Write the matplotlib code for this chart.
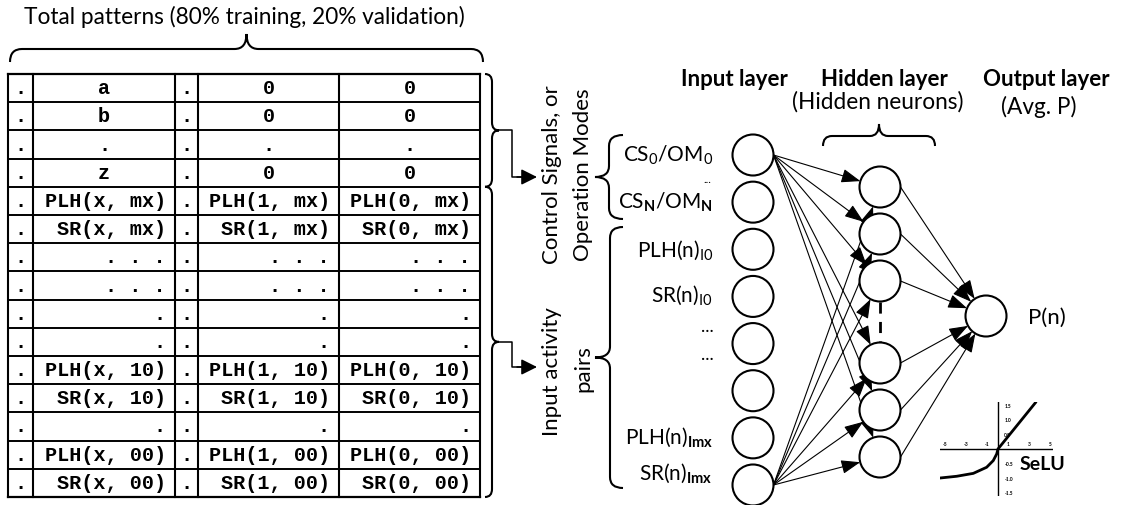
import numpy as np
import matplotlib
matplotlib.use("Agg")
import matplotlib.pyplot as plt
from matplotlib.patches import Circle, FancyArrowPatch, PathPatch
from matplotlib.path import Path

plt.rcParams['font.family'] = ['Lato', 'DejaVu Sans']
plt.rcParams['mathtext.fontset'] = 'custom'
plt.rcParams['mathtext.rm'] = 'Lato'
plt.rcParams['mathtext.bf'] = 'Lato:bold'
plt.rcParams['mathtext.it'] = 'Lato:italic'

# ---- data ----
title = 'Total patterns (80% training, 20% validation)'
col_dot = ['.'] * 15
col_x = ['a', 'b', '.', 'z', 'PLH(x, mx)', 'SR(x, mx)', '. . .', '. . .', '.', '.',
         'PLH(x, 10)', 'SR(x, 10)', '.', 'PLH(x, 00)', 'SR(x, 00)']
col_1 = ['0', '0', '.', '0', 'PLH(1, mx)', 'SR(1, mx)', '. . .', '. . .', '.', '.',
         'PLH(1, 10)', 'SR(1, 10)', '.', 'PLH(1, 00)', 'SR(1, 00)']
col_0 = ['0', '0', '.', '0', 'PLH(0, mx)', 'SR(0, mx)', '. . .', '. . .', '.', '.',
         'PLH(0, 10)', 'SR(0, 10)', '.', 'PLH(0, 00)', 'SR(0, 00)']
n_centered = 4  # first rows (control signals) are centered

layer_titles = ['Input layer', 'Hidden layer', 'Output layer']
layer_subtitles = ['', '(Hidden neurons)', '(Avg. P)']
input_labels = [r'CS$_\mathrm{0}$/OM$_\mathrm{0}$', '...', r'CS$_\mathbf{N}$/OM$_\mathbf{N}$',
                r'PLH(n)$_\mathrm{I0}$', r'SR(n)$_\mathrm{I0}$', '...', '...',
                r'PLH(n)$_\mathbf{Imx}$', r'SR(n)$_\mathbf{Imx}$']
input_label_y = [155, 179, 202, 250, 295, 327, 355, 437, 473]
n_input = 8
n_hidden_top = 3
n_hidden_bottom = 3
output_label = 'P(n)'

# SeLU sketch points
selu_x = [-5.52, -3.93, -2.35, -1.08, -0.45, -0.12, 0.0, 3.62]
selu_y = [-1.0, -0.94, -0.84, -0.63, -0.40, -0.17, 0.0, 1.62]
selu_xticks = [-5, -3, -1, 1, 3, 5]
selu_yticks = [1.5, 1.0, 0.5, -0.5, -1.0, -1.5]

# ---- figure in pixel coordinates ----
W, H = 1121, 506
fig = plt.figure(figsize=(W / 100, H / 100), dpi=100)
ax = fig.add_axes([0, 0, 1, 1])
ax.set_xlim(0, W)
ax.set_ylim(H, 0)
ax.axis('off')


def brace(x0, y0, x1, y1, d1, d2, r, lw=1.5):
    # brace from (x0,y0) to (x1,y1); d1/d2 are offsets of line and tip (sign = side)
    p0 = np.array([x0, y0], float)
    p1 = np.array([x1, y1], float)
    L = np.linalg.norm(p1 - p0)
    u = (p1 - p0) / L
    n = np.array([u[1], -u[0]])

    def P(s, t):
        return p0 + u * s + n * t
    verts = [P(0, 0), P(0, d1), P(r, d1),
             P(L / 2 - r, d1), P(L / 2, d1), P(L / 2, d2),
             P(L / 2, d1), P(L / 2 + r, d1),
             P(L - r, d1), P(L, d1), P(L, 0)]
    codes = [Path.MOVETO, Path.CURVE3, Path.CURVE3,
             Path.LINETO, Path.CURVE3, Path.CURVE3,
             Path.CURVE3, Path.CURVE3,
             Path.LINETO, Path.CURVE3, Path.CURVE3]
    ax.add_patch(PathPatch(Path(verts, codes), fill=False, lw=lw, color='black'))


# title + top brace
ax.text(244, 17, title, ha='center', va='center', fontsize=16.3)
brace(10, 63, 483, 63, 13, 28, 12)

# ---- table ----
col_edges = [8, 33, 175, 198, 339, 480]
row_top, row_bot = 75, 498
n_rows = len(col_x)
row_h = (row_bot - row_top) / n_rows
for x in col_edges:
    ax.plot([x, x], [row_top, row_bot], color='black', lw=1.5, solid_capstyle='projecting')
for i in range(n_rows + 1):
    y = row_top + i * row_h
    ax.plot([col_edges[0], col_edges[-1]], [y, y], color='black', lw=1.4 if 0 < i < n_rows else 1.6)

mono = dict(family='Liberation Mono', fontweight='bold', fontsize=14.5)
columns = [col_dot, col_x, col_dot, col_1, col_0]
for c, vals in enumerate(columns):
    xl, xr = col_edges[c], col_edges[c + 1]
    for i, s in enumerate(vals):
        yb = row_top + (i + 0.5) * row_h + 5
        if c in (0, 2) or i < n_centered:
            ax.text((xl + xr) / 2, yb, s, ha='center', va='baseline', **mono)
        else:
            ax.text(xr - 9, yb, s, ha='right', va='baseline', **mono)

# right braces beside table
split_y = row_top + n_centered * row_h
brace(485, row_top, 485, split_y, 7, 14, 8)
brace(485, split_y, 485, row_bot, 7, 14, 8)


def elbow(x0, y0, xm, y1, x1):
    ax.plot([x0, xm, xm, x1 - 8], [y0, y0, y1, y1], color='black', lw=1.1)
    ax.add_patch(FancyArrowPatch((x1 - 20, y1), (x1, y1), arrowstyle='-|>,head_length=0.8,head_width=0.4',
                                 mutation_scale=12, color='black', lw=1.1, shrinkA=0, shrinkB=0))


elbow(499, (row_top + split_y) / 2, 512, 178, 537)
elbow(499, (split_y + row_bot) / 2, 512, 368, 537)

# rotated group labels
ax.text(552, 175, 'Control Signals, or', rotation=90, ha='center', va='center', fontsize=16)
ax.text(583, 175, 'Operation Modes', rotation=90, ha='center', va='center', fontsize=16)
ax.text(552, 372, 'Input activity', rotation=90, ha='center', va='center', fontsize=16)
ax.text(583, 369, 'pairs', rotation=90, ha='center', va='center', fontsize=16)

# left braces for input groups
brace(623, 136, 623, 220, -14, -28, 11)
brace(623, 228, 623, 489, -13, -28, 11)

# input labels
for s, y in zip(input_labels, input_label_y):
    if s == '...':
        fs = 8 if y < 200 else 13
        ax.text(707, y, s, ha='center', va='center', fontsize=fs)
    else:
        ax.text(713, y, s, ha='right', va='center', fontsize=15)

# ---- network ----
r = 20.5
x_in, x_hid, x_out = 753, 880, 986
y_in = np.linspace(156, 486, n_input)
y_hid = np.concatenate([188 + 47 * np.arange(n_hidden_top), 364 + 47 * np.arange(n_hidden_bottom)])
y_out = 317

for yy in y_in:
    ax.add_patch(Circle((x_in, yy), r, fc='white', ec='black', lw=1.5, zorder=3))
for yy in y_hid:
    ax.add_patch(Circle((x_hid, yy), r, fc='white', ec='black', lw=1.5, zorder=3))
ax.add_patch(Circle((x_out, y_out), r, fc='white', ec='black', lw=1.5, zorder=3))
ax.plot([x_hid, x_hid], [y_hid[n_hidden_top - 1] + r, y_hid[n_hidden_top] - r], color='black',
        lw=2, ls=(0, (4, 3)), zorder=2)


def connect(xa, ya, xb, yb):
    d = np.array([xb - xa, yb - ya], float)
    d /= np.linalg.norm(d)
    end = (xb - d[0] * r, yb - d[1] * r)
    ax.add_patch(FancyArrowPatch((xa, ya), end, arrowstyle='-|>,head_length=0.9,head_width=0.33',
                                 mutation_scale=13, color='black', lw=0.8, shrinkA=0, shrinkB=0, zorder=2))


for yi in (y_in[0], y_in[-1]):
    for yh in y_hid:
        connect(x_in + r, yi, x_hid, yh)
for yh in y_hid:
    connect(x_hid + r, yh, x_out, y_out)

# hidden brace
brace(823, 147, 935, 147, 10, 22, 9)

# layer titles
for xc, t in zip([734, 884, 1046], layer_titles):
    ax.text(xc, 79, t, ha='center', va='center', fontsize=16, fontweight='bold')
xs_sub = [0, 878, 1039]
ys_sub = [0, 102, 107]
for i in (1, 2):
    ax.text(xs_sub[i], ys_sub[i], layer_subtitles[i], ha='center', va='center', fontsize=16.3)

ax.text(1028, 318, output_label, ha='left', va='center', fontsize=16)

# ---- SeLU inset ----
x0px, x1px, y0px, y1px = 940, 1053, 403, 497
ins = fig.add_axes([x0px / W, 1 - y1px / H, (x1px - x0px) / W, (y1px - y0px) / H])
ins.set_xlim(-5.52, 5.24)
ins.set_ylim(-1.62, 1.62)
ins.axis('off')
ins.axhline(0, color='black', lw=1.0)
ins.axvline(0, color='black', lw=1.0)
ins.plot(selu_x, selu_y, color='black', lw=2.0, solid_capstyle='round')
for t in selu_xticks:
    ins.text(t, 0.1, str(t), ha='center', va='bottom', fontsize=3.5, fontweight='bold')
for t in selu_yticks:
    ins.text(0.6, t, f'{t:.1f}', ha='left', va='center', fontsize=3.5, fontweight='bold')
ax.text(1020, 465, 'SeLU', ha='left', va='center', fontsize=14, fontweight='bold')

fig.savefig('out.png', dpi=100)
